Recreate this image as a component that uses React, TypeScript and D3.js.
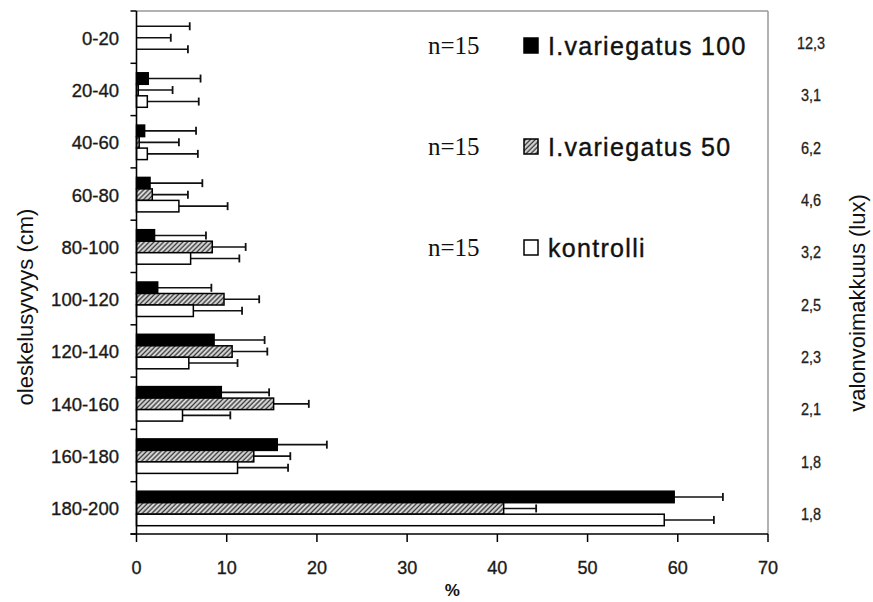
import React from "react";
import * as d3 from "d3";

const categories = ["0-20", "20-40", "40-60", "60-80", "80-100", "100-120", "120-140", "140-160", "160-180", "180-200"];
const seriesNames = ["I.variegatus 100", "I.variegatus 50", "kontrolli"];
const mean100 = [0, 1.3, 0.9, 1.5, 2.0, 2.35, 8.6, 9.4, 15.6, 59.6];
const sd100 = [5.9, 5.8, 5.7, 5.8, 5.7, 5.95, 5.6, 5.3, 5.5, 5.4];
const mean50 = [0, 0.2, 0.3, 1.75, 8.4, 9.7, 10.6, 15.2, 13.0, 40.7];
const sd50 = [3.8, 3.8, 4.4, 3.95, 3.7, 3.9, 3.9, 3.9, 4.05, 3.6];
const meanK = [0, 1.2, 1.2, 4.7, 6.0, 6.3, 5.8, 5.1, 11.2, 58.5];
const sdK = [5.7, 5.7, 5.6, 5.4, 5.4, 5.4, 5.4, 5.3, 5.6, 5.5];
const luxLabels = ["12,3", "3,1", "6,2", "4,6", "3,2", "2,5", "2,3", "2,1", "1,8", "1,8"];
const xTicks = [0, 10, 20, 30, 40, 50, 60, 70];
const nLabels = ["n=15", "n=15", "n=15"];

const W = 873, H = 602;
const L = 136.5, R = 768, T = 11, B = 534;

export default function App() {
  const x = d3.scaleLinear().domain([0, 70]).range([L, R]);
  const y = d3.scaleBand<string>().domain(categories).range([T, B]);
  const inner = d3.scaleBand<string>().domain(seriesNames).range([9.5, 44]);
  const bh = inner.bandwidth();
  const means = [mean100, mean50, meanK];
  const sds = [sd100, sd50, sdK];
  const fills = ["#000", "url(#hatch)", "#fff"];
  const bounds = d3.range(categories.length + 1).map(i => T + i * y.step());
  const sans = "'Liberation Sans', Arial, sans-serif";

  return (
    <svg width={W} height={H} style={{ position: "absolute", left: 0, top: 0, background: "#fff" }}>
      <defs>
        <pattern id="hatch" patternUnits="userSpaceOnUse" width={3.4} height={3.4} patternTransform="rotate(45)">
          <rect width={3.4} height={3.4} fill="#e6e6e6" />
          <line x1={1.2} y1={0} x2={1.2} y2={3.4} stroke="#3a3a3a" strokeWidth={1.5} />
        </pattern>
      </defs>
      {/* frame */}
      <line x1={L} x2={R} y1={T} y2={T} stroke="#999" strokeWidth={1.5} />
      <line x1={R} x2={R} y1={T} y2={B} stroke="#999" strokeWidth={1.5} />

      {/* bars */}
      {categories.map((c, ci) => (
        <g key={c}>
          {seriesNames.map((s, si) => {
            const v = means[si][ci];
            const e = v + sds[si][ci];
            const y0 = (y(c) as number) + (inner(s) as number);
            const yc = y0 + bh / 2;
            return (
              <g key={s}>
                <line x1={x(v)} x2={x(e)} y1={yc} y2={yc} stroke="#111" strokeWidth={1.6} />
                <line x1={x(e)} x2={x(e)} y1={yc - 4} y2={yc + 4} stroke="#111" strokeWidth={1.8} />
                {v > 0 && (
                  <rect x={x(0)} y={y0} width={x(v) - x(0)} height={bh} fill={fills[si]} stroke="#000" strokeWidth={1.5} />
                )}
              </g>
            );
          })}
        </g>
      ))}

      {/* left axis */}
      <line x1={L} x2={L} y1={T} y2={B} stroke="#000" strokeWidth={1.6} />
      {bounds.map((b, i) => (
        <line key={i} x1={L - 6} x2={L} y1={b} y2={b} stroke="#000" strokeWidth={1.5} />
      ))}
      {categories.map(c => (
        <text key={c} x={119} y={(y(c) as number) + y.bandwidth() / 2 + 7.5} textAnchor="end"
          fontFamily={sans} fontSize={18.5} fill="#1a1a1a" stroke="#1a1a1a" strokeWidth={0.35}>{c}</text>
      ))}

      {/* bottom axis */}
      <line x1={L - 6} x2={R} y1={B} y2={B} stroke="#000" strokeWidth={1.6} />
      {xTicks.map(t => (
        <g key={t}>
          <line x1={x(t)} x2={x(t)} y1={B} y2={B + 8} stroke="#000" strokeWidth={1.5} />
          <text x={x(t)} y={574} textAnchor="middle" fontFamily={sans} fontSize={18} fill="#1a1a1a" stroke="#1a1a1a" strokeWidth={0.35}>{t}</text>
        </g>
      ))}
      <text x={x(35)} y={596} textAnchor="middle" fontFamily={sans} fontSize={17} fontWeight="bold" fill="#111">%</text>

      {/* right labels */}
      {categories.map((c, ci) => (
        <text key={c} transform={`translate(811,${(y(c) as number) + y.bandwidth() / 2 + 12}) scale(0.85,1)`} textAnchor="middle"
          fontFamily={sans} fontSize={17} fill="#222" stroke="#222" strokeWidth={0.3}>{luxLabels[ci]}</text>
      ))}

      {/* axis titles */}
      <text transform="translate(33,307) rotate(-90)" textAnchor="middle" fontFamily={sans} fontSize={22} fill="#111">oleskelusyvyys (cm)</text>
      <text transform="translate(865,303) rotate(-90)" textAnchor="middle" fontFamily={sans} fontSize={22} fill="#111">valonvoimakkuus (lux)</text>

      {/* legend */}
      {seriesNames.map((s, si) => {
        const cy = 46 + si * 101;
        return (
          <g key={s}>
            <text x={428} y={cy + 8} fontFamily="'Liberation Serif', 'Times New Roman', serif" fontSize={25} fill="#111">{nLabels[si]}</text>
            <rect x={524} y={cy - 8} width={14} height={15} fill={fills[si]} stroke="#000" strokeWidth={1.5} />
            <text x={548} y={cy + 9} fontFamily={sans} fontSize={25} letterSpacing={1.3} fill="#111" stroke="#111" strokeWidth={0.4}>{s}</text>
          </g>
        );
      })}
    </svg>
  );
}
